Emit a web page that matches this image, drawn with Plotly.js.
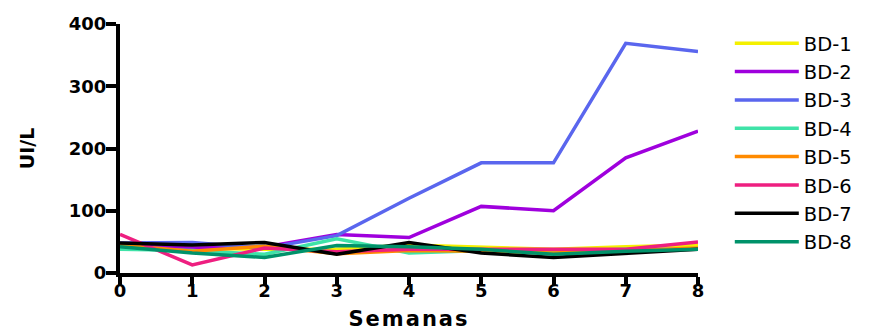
<!DOCTYPE html>
<html>
<head>
<meta charset="utf-8">
<script src="https://cdn.plot.ly/plotly-3.0.1.min.js"></script>
<style>
html, body { margin: 0; padding: 0; background: #fff; }
#chart { width: 877px; height: 331px; }
#chart .xtitle { letter-spacing: 2px; }
</style>
</head>
<body>
<div id="chart"></div>
<script>
const weeks = [0, 1, 2, 3, 4, 5, 6, 7, 8];
const seriesNames = ["BD-1", "BD-2", "BD-3", "BD-4", "BD-5", "BD-6", "BD-7", "BD-8"];
const seriesColors = ["#f4f000", "#9f00dd", "#5a66ee", "#3fe3a8", "#ff8a00", "#ee1f80", "#000000", "#00926a"];
const bd1 = [45, 40, 38, 38, 45, 42, 38, 42, 45];
const bd2 = [44, 40, 42, 62, 57, 107, 100, 185, 228];
const bd3 = [48, 49, 40, 60, 120, 177, 177, 369, 356];
const bd4 = [38, 36, 30, 55, 32, 36, 35, 38, 38];
const bd5 = [45, 35, 43, 31, 36, 35, 32, 36, 40];
const bd6 = [62, 13, 40, 34, 38, 38, 38, 38, 50];
const bd7 = [48, 45, 49, 30, 49, 32, 25, 32, 38];
const bd8 = [42, 32, 25, 44, 42, 38, 30, 35, 38];
const seriesValues = [bd1, bd2, bd3, bd4, bd5, bd6, bd7, bd8];

const traces = seriesNames.map((name, i) => ({
  type: "scatter",
  mode: "lines",
  name: name,
  x: weeks,
  y: seriesValues[i],
  line: { color: seriesColors[i], width: 3.5 },
  hoverinfo: "x+y+name"
}));

const tickFont = { family: "DejaVu Sans", size: 18, color: "#000", weight: "bold" };

const layout = {
  width: 877,
  height: 331,
  margin: { l: 120, r: 179, t: 24, b: 58 },
  paper_bgcolor: "#fff",
  plot_bgcolor: "#fff",
  showlegend: true,
  xaxis: {
    range: [0, 8],
    tickvals: weeks,
    ticktext: weeks.map(String),
    showgrid: false,
    zeroline: false,
    showline: true,
    linecolor: "#000",
    linewidth: 4,
    ticks: "outside",
    ticklen: 8,
    tickwidth: 4,
    tickcolor: "#000",
    tickfont: tickFont,
    ticklabelstandoff: -10,
    title: { text: "Semanas", font: { family: "DejaVu Sans", size: 21, color: "#000", weight: "bold" }, standoff: 16 }
  },
  yaxis: {
    range: [0, 400],
    tickvals: [0, 100, 200, 300, 400],
    showgrid: false,
    zeroline: false,
    showline: true,
    linecolor: "#000",
    linewidth: 4,
    ticks: "outside",
    ticklen: 10,
    tickwidth: 4,
    tickcolor: "#000",
    tickfont: tickFont,
    ticklabelstandoff: -4,
    title: { text: "UI/L", font: { family: "DejaVu Sans", size: 19, color: "#000", weight: "bold" }, standoff: 30 }
  },
  legend: {
    x: 1.055,
    xanchor: "left",
    y: 1.0,
    yanchor: "top",
    font: { family: "DejaVu Sans", size: 19.5, color: "#000" },
    itemwidth: 64,
    bgcolor: "rgba(0,0,0,0)",
    borderwidth: 0
  }
};

Plotly.newPlot("chart", traces, layout, { displayModeBar: false, staticPlot: true });
</script>
</body>
</html>
